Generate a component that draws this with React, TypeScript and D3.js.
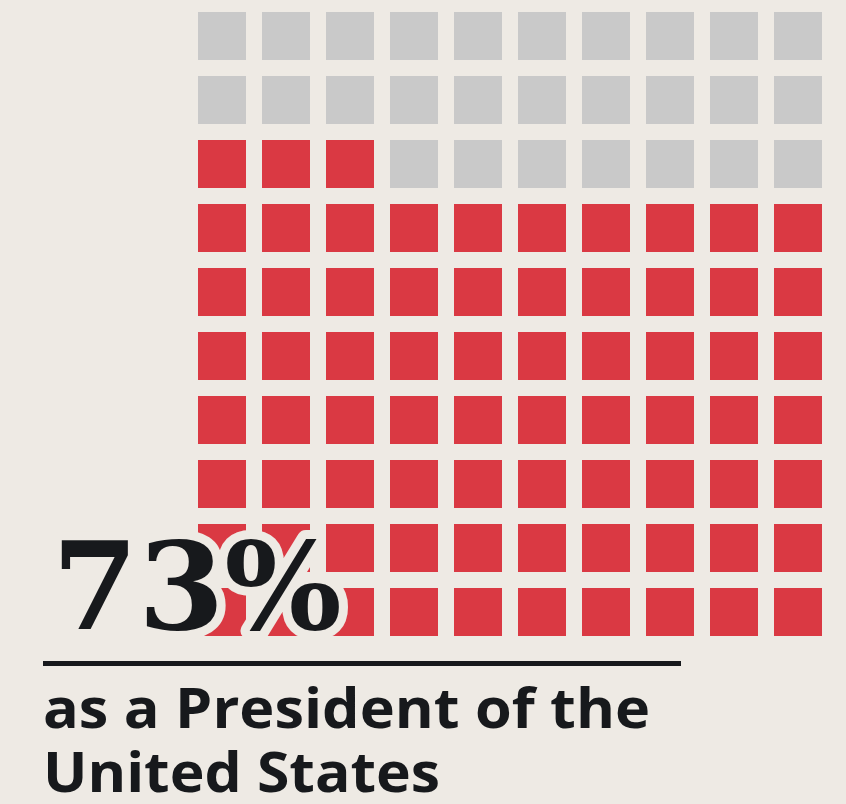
import React from "react";
import * as d3 from "d3";

const TOTAL_CELLS = 100;
const COLUMNS = 10;
const ROWS = 10;
const PERCENT_VALUE = 73;
const BIG_LABEL = "73%";
const CAPTION_LINES = ["as a President of the", "United States"];
const CAPTION_WIDTHS = [607, 397];

const W = 846;
const H = 804;
const BG = "#EEEAE4";
const RED = "#DA3943";
const GREY = "#C9C9C9";
const INK = "#17191C";

export default function App() {
  const x = d3.scaleBand<number>().domain(d3.range(COLUMNS)).range([198, 822]).paddingInner(0.25).paddingOuter(0);
  const y = d3.scaleBand<number>().domain(d3.range(ROWS)).range([12, 636]).paddingInner(0.25).paddingOuter(0);

  const cells = d3.range(TOTAL_CELLS).map((i) => {
    const rowFromBottom = Math.floor(i / COLUMNS);
    const col = i % COLUMNS;
    return { row: ROWS - 1 - rowFromBottom, col, on: i < PERCENT_VALUE };
  });

  return (
    <svg width={W} height={H} style={{ position: "absolute", left: 0, top: 0, display: "block" }}>
      <rect x={0} y={0} width={W} height={H} fill={BG} />
      <g>
        {cells.map((c, i) => (
          <rect key={i} x={x(c.col)} y={y(c.row)} width={x.bandwidth()} height={y.bandwidth()} fill={c.on ? RED : GREY} />
        ))}
      </g>
      <text
        x={52}
        y={629}
        fontFamily="'DejaVu Serif', serif"
        fontWeight={900}
        fontSize={122}
        fill={INK}
        stroke={BG}
        strokeWidth={18}
        strokeLinejoin="round"
        paintOrder="stroke"
        textLength={290}
        lengthAdjust="spacingAndGlyphs"
      >
        {BIG_LABEL}
      </text>
      <rect x={43} y={661} width={638} height={5} fill={INK} />
      {CAPTION_LINES.map((t, i) => (
        <text
          key={i}
          x={43}
          y={728 + i * 64}
          fontFamily="'Open Sans', Lato, sans-serif"
          fontWeight={700}
          fontSize={55}
          fill={INK}
          textLength={CAPTION_WIDTHS[i]}
          lengthAdjust="spacingAndGlyphs"
        >
          {t}
        </text>
      ))}
    </svg>
  );
}
